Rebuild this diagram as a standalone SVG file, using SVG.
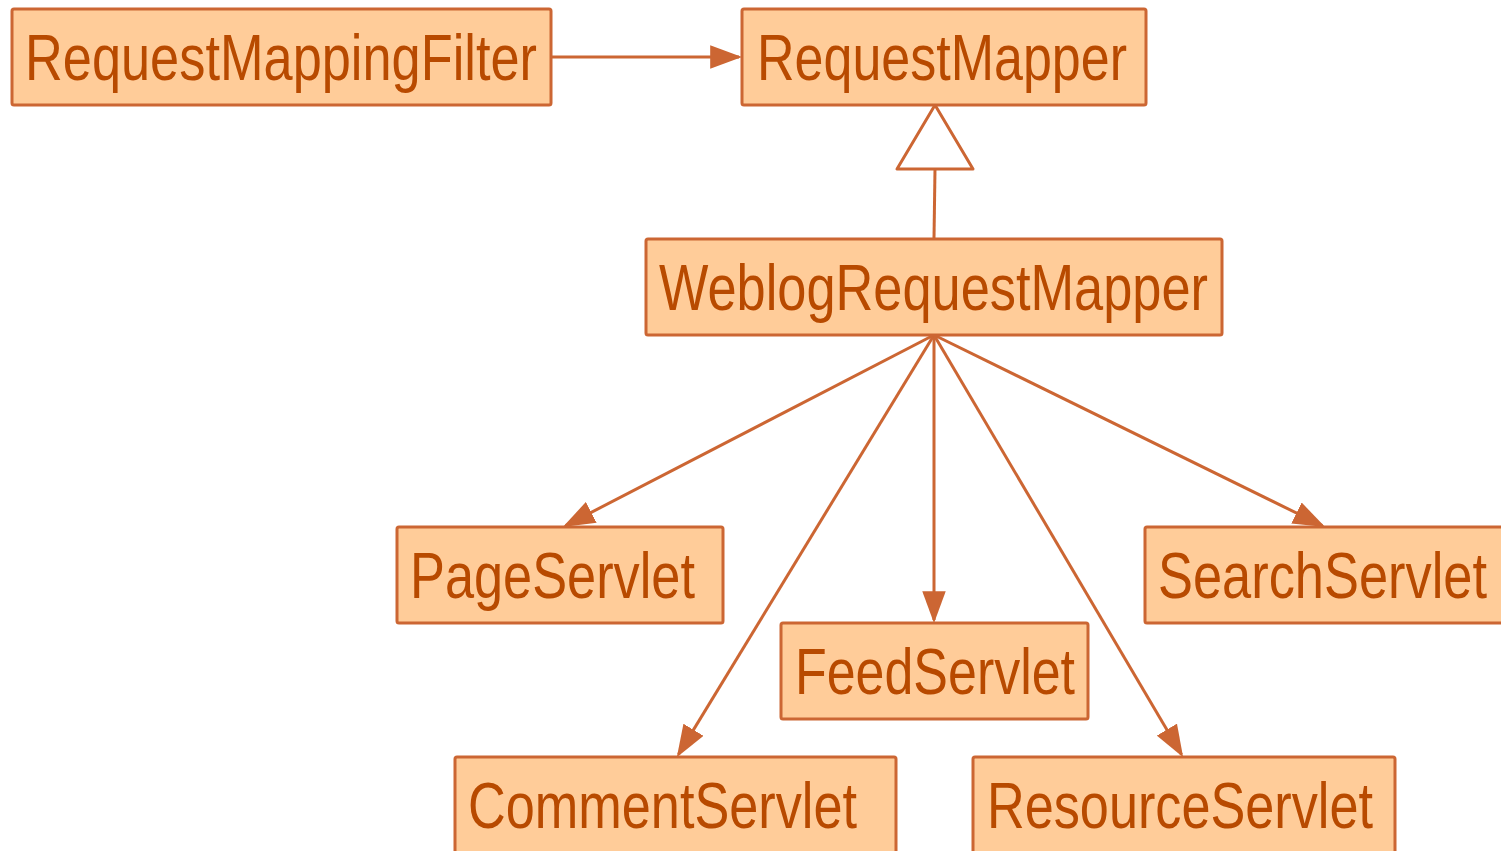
<svg xmlns="http://www.w3.org/2000/svg" width="1501" height="851" viewBox="0 0 1501 851">
<defs>
<style>
.box{fill:#FFCC99;stroke:#CC6633;stroke-width:3}
.lbl{font-family:"Liberation Sans",Arial,sans-serif;font-size:65px;fill:#B84A00}
.edge{stroke:#CC6633;stroke-width:3;fill:none}
</style>
<marker id="arr" markerUnits="userSpaceOnUse" markerWidth="32" markerHeight="24" viewBox="0 0 30 22" refX="27" refY="11" orient="auto">
<path d="M0,0 L30,11 L0,22 Z" fill="#CC6633"/>
</marker>
</defs>
<rect width="1501" height="851" fill="#FFFFFF"/>
<g id="connectors">
<line class="edge" x1="551" y1="57" x2="739" y2="57" marker-end="url(#arr)"/>
<line class="edge" x1="934" y1="238" x2="935" y2="169"/>
<polygon points="935,105 897,169 973,169" fill="#FFFFFF" stroke="#CC6633" stroke-width="3" stroke-linejoin="round"/>
<line class="edge" x1="934" y1="335" x2="565.7" y2="525.6" marker-end="url(#arr)"/>
<line class="edge" x1="934" y1="335" x2="678.5" y2="754.4" marker-end="url(#arr)"/>
<line class="edge" x1="934" y1="335" x2="934" y2="620" marker-end="url(#arr)"/>
<line class="edge" x1="934" y1="335" x2="1181.5" y2="754.4" marker-end="url(#arr)"/>
<line class="edge" x1="934" y1="335" x2="1322.3" y2="525.7" marker-end="url(#arr)"/>
</g>
<g id="RequestMappingFilter">
<rect class="box" x="12" y="9" width="539" height="96" rx="2"/>
<text class="lbl" x="25" y="80" textLength="512" lengthAdjust="spacingAndGlyphs">RequestMappingFilter</text>
</g>
<g id="RequestMapper">
<rect class="box" x="742" y="9" width="404" height="96" rx="2"/>
<text class="lbl" x="757" y="80" textLength="370" lengthAdjust="spacingAndGlyphs">RequestMapper</text>
</g>
<g id="WeblogRequestMapper">
<rect class="box" x="646" y="239" width="576" height="96" rx="2"/>
<text class="lbl" x="659" y="310" textLength="549" lengthAdjust="spacingAndGlyphs">WeblogRequestMapper</text>
</g>
<g id="PageServlet">
<rect class="box" x="397" y="527" width="326" height="96" rx="2"/>
<text class="lbl" x="410" y="598" textLength="285" lengthAdjust="spacingAndGlyphs">PageServlet</text>
</g>
<g id="SearchServlet">
<rect class="box" x="1145" y="527" width="362" height="96" rx="2"/>
<text class="lbl" x="1158" y="598" textLength="329" lengthAdjust="spacingAndGlyphs">SearchServlet</text>
</g>
<g id="FeedServlet">
<rect class="box" x="781" y="623" width="307" height="96" rx="2"/>
<text class="lbl" x="795" y="694" textLength="280" lengthAdjust="spacingAndGlyphs">FeedServlet</text>
</g>
<g id="CommentServlet">
<rect class="box" x="455" y="757" width="441" height="96" rx="2"/>
<text class="lbl" x="468" y="828" textLength="389" lengthAdjust="spacingAndGlyphs">CommentServlet</text>
</g>
<g id="ResourceServlet">
<rect class="box" x="973" y="757" width="422" height="96" rx="2"/>
<text class="lbl" x="987" y="828" textLength="386" lengthAdjust="spacingAndGlyphs">ResourceServlet</text>
</g>
</svg>
